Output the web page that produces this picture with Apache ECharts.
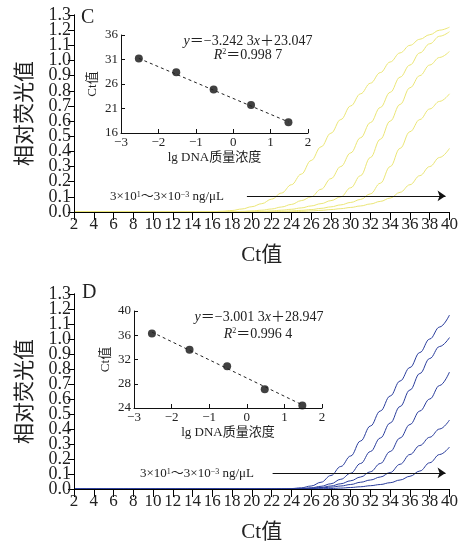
<!DOCTYPE html>
<html><head><meta charset="utf-8">
<script src="https://cdn.jsdelivr.net/npm/echarts@6/dist/echarts.min.js"></script>
<style>html,body{margin:0;padding:0;background:#fff}#c{width:461px;height:545px}</style>
</head><body><div id="c"></div>
<script>
// Ct axis samples
const ct = [2,3,4,5,6,7,8,9,10,11,12,13,14,15,16,17,18,19,20,21,22,23,24,25,26,27,28,29,30,31,32,33,34,35,36,37,38,39,40];

// Panel C amplification curves (relative fluorescence)
const curveC1 = [0,0,0,0,0,0,0,0,0,0,0,0,0,0,0.002,0.005,0.01,0.02,0.035,0.055,0.085,0.125,0.18,0.25,0.34,0.43,0.52,0.61,0.70,0.78,0.85,0.92,0.99,1.05,1.10,1.14,1.17,1.20,1.22];
const curveC2 = [0,0,0,0,0,0,0,0,0,0,0,0,0,0,0,0,0.002,0.004,0.007,0.012,0.02,0.033,0.05,0.075,0.10,0.15,0.22,0.30,0.39,0.49,0.59,0.69,0.79,0.89,0.97,1.05,1.11,1.16,1.19];
const curveC3 = [0,0,0,0,0,0,0,0,0,0,0,0,0,0,0,0,0,0,0.002,0.004,0.007,0.012,0.018,0.027,0.04,0.055,0.075,0.10,0.16,0.24,0.36,0.48,0.60,0.71,0.82,0.90,0.97,1.02,1.06];
const curveC4 = [0,0,0,0,0,0,0,0,0,0,0,0,0,0,0,0,0,0,0,0,0.002,0.004,0.007,0.011,0.016,0.024,0.034,0.047,0.063,0.083,0.12,0.19,0.30,0.42,0.53,0.61,0.68,0.73,0.78];
const curveC5 = [0,0,0,0,0,0,0,0,0,0,0,0,0,0,0,0,0,0,0,0,0,0,0.002,0.004,0.007,0.011,0.016,0.022,0.03,0.04,0.053,0.07,0.092,0.13,0.18,0.24,0.30,0.36,0.42];

// Panel D amplification curves
const curveD1 = [0,0,0,0,0,0,0,0,0,0,0,0,0,0,0,0,0,0,0,0,0,0.001,0.003,0.008,0.02,0.045,0.09,0.15,0.22,0.32,0.42,0.52,0.62,0.72,0.81,0.91,1.00,1.08,1.16];
const curveD2 = [0,0,0,0,0,0,0,0,0,0,0,0,0,0,0,0,0,0,0,0,0,0,0.001,0.003,0.008,0.018,0.035,0.065,0.105,0.17,0.25,0.34,0.44,0.55,0.66,0.77,0.87,0.95,1.01];
const curveD3 = [0,0,0,0,0,0,0,0,0,0,0,0,0,0,0,0,0,0,0,0,0,0,0.001,0.002,0.005,0.01,0.02,0.035,0.055,0.08,0.115,0.17,0.25,0.34,0.43,0.52,0.60,0.69,0.78];
const curveD4 = [0,0,0,0,0,0,0,0,0,0,0,0,0,0,0,0,0,0,0,0,0,0,0,0.001,0.003,0.007,0.012,0.02,0.03,0.045,0.06,0.08,0.11,0.165,0.23,0.29,0.345,0.40,0.46];
const curveD5 = [0,0,0,0,0,0,0,0,0,0,0,0,0,0,0,0,0,0,0,0,0,0,0,0,0.001,0.002,0.003,0.006,0.01,0.015,0.022,0.03,0.042,0.06,0.085,0.12,0.175,0.23,0.28];

// Standard curves (inset): lg DNA concentration vs Ct
const lgConc = [-2.523,-1.523,-0.523,0.477,1.477];
const ctC = [31.2,28.4,24.9,21.7,18.2];
const ctD = [36.3,33.6,30.9,27.1,24.4];
const fitX = [-2.523,1.477];
const fitC = [31.23,18.26];
const fitD = [36.52,24.51];

// arrow annotation (Ct range, fluorescence level)
const arrowC = [[19.5,0.106],[39.6,0.106]];
const arrowD = [[22.1,0.107],[39.6,0.107]];

// tick settings
const mainXTicks = {min:2,max:40,interval:2};
const mainYTicks = {min:0,max:1.3,interval:0.1};
const insetXTicks = {min:-3,max:2,interval:1};
const insetCY = {min:16,max:36,interval:5};
const insetDY = {min:24,max:40,interval:4};

const FONT = "'Liberation Serif','Noto Sans CJK SC',serif";
const TXT = '#222';
const YEL = '#ebe676';
const BLU = '#2a3d9c';

const zip = (a,b) => a.map((v,i)=>[v,b[i]]);
const minusFmt = v => (v<0 ? '\u2212'+Math.abs(v) : String(v));

function mainX(gi){
  return {gridIndex:gi, type:'value', ...mainXTicks, z:10,
    name:'Ct值', nameLocation:'middle', nameGap:33,
    nameTextStyle:{fontFamily:FONT,fontSize:21,color:TXT},
    axisLine:{show:true,onZero:false,lineStyle:{color:'#000',width:1,opacity:1}},
    axisTick:{show:true,inside:false,length:8,lineStyle:{color:'#000',width:1,opacity:1}},
    axisLabel:{fontFamily:FONT,fontSize:17,color:TXT,margin:4,showMinLabel:true,showMaxLabel:true,hideOverlap:false},
    splitLine:{show:false}};
}
// two overlaid left axes per panel: one carries even labels, the other odd ones
function mainY(gi, parity){
  const ax = {gridIndex:gi, type:'value', position:'left', ...mainYTicks, z:10,
    axisLine:{show:true,onZero:false,lineStyle:{color:'#000',width:1,opacity:1}},
    axisTick:{show:true,inside:false,length:6,lineStyle:{color:'#000',width:1,opacity:1}},
    axisLabel:{fontFamily:FONT,fontSize:18,color:TXT,margin:3,showMinLabel:true,showMaxLabel:true,hideOverlap:false,
      formatter:v=>{const k=Math.round(v*10); return (k%2===parity)? v.toFixed(1) : '';}},
    splitLine:{show:false}};
  if (parity===0) {
    ax.name = '相对荧光值'; ax.nameLocation = 'middle'; ax.nameGap = 38;
    ax.nameTextStyle = {fontFamily:FONT,fontSize:21,color:TXT};
  }
  return ax;
}
function insetX(gi){
  return {gridIndex:gi, type:'value', ...insetXTicks, z:10,
    name:'lg DNA质量浓度', nameLocation:'middle', nameGap:18,
    nameTextStyle:{fontFamily:FONT,fontSize:13,color:TXT},
    axisLine:{onZero:false,lineStyle:{color:'#111',width:1}},
    axisTick:{show:true,inside:true,length:4,lineStyle:{color:'#111'}},
    axisLabel:{fontFamily:FONT,fontSize:13,color:TXT,margin:3,formatter:minusFmt},
    splitLine:{show:false}};
}
function insetY(gi, t){
  return {gridIndex:gi, type:'value', ...t, z:10,
    name:'Ct值', nameLocation:'middle', nameGap:22,
    nameTextStyle:{fontFamily:FONT,fontSize:13,color:TXT},
    axisLine:{show:true,onZero:false,lineStyle:{color:'#111',width:1}},
    axisTick:{show:true,inside:true,length:4,lineStyle:{color:'#111'}},
    axisLabel:{fontFamily:FONT,fontSize:13,color:TXT,margin:3},
    splitLine:{show:false}};
}

function curve(data, xi, yi, color, arrow){
  const s = {type:'line', xAxisIndex:xi, yAxisIndex:yi, data:zip(ct,data), symbol:'none',
    smooth:0.4, smoothMonotone:'x', lineStyle:{color:color,width:1}, itemStyle:{color:color}, silent:true, z:3};
  if (arrow) {
    s.clip = false;
    s.markLine = {silent:true, symbol:['none','arrow'], symbolSize:8, label:{show:false},
      lineStyle:{color:'#111',width:1,type:'solid'}, itemStyle:{color:'#111'}, emphasis:{disabled:true},
      data:[
        [{coord:arrow[0], symbol:'none'},{coord:arrow[1], symbol:'arrow'}],
        [{coord:[mainXTicks.min, mainYTicks.min], symbol:'none'},{coord:[mainXTicks.min, mainYTicks.max], symbol:'none'}]
      ]};
  }
  return s;
}

const option = {
  animation:false,
  backgroundColor:'#fff',
  grid:[
    {left:74, top:15, width:377, height:197},
    {left:121, top:35, width:187, height:98},
    {left:74, top:294, width:377, height:195},
    {left:134, top:311, width:188, height:97}
  ],
  xAxis:[mainX(0), insetX(1), mainX(2), insetX(3)],
  // indices: 0 C-even, 1 C inset, 2 D-even, 3 D inset, 4 C-odd, 5 D-odd
  yAxis:[mainY(0,0), insetY(1, insetCY), mainY(2,0), insetY(3, insetDY), mainY(0,1), mainY(2,1)],
  series:[
    curve(curveC5,0,0,YEL,arrowC),
    curve(curveC4,0,0,YEL), curve(curveC3,0,0,YEL), curve(curveC2,0,0,YEL), curve(curveC1,0,0,YEL),
    curve(curveD5,2,2,BLU,arrowD),
    curve(curveD4,2,2,BLU), curve(curveD3,2,2,BLU), curve(curveD2,2,2,BLU), curve(curveD1,2,2,BLU),
    {type:'line', xAxisIndex:1, yAxisIndex:1, data:zip(fitX,fitC), symbol:'none',
      lineStyle:{color:'#222',width:1,type:[3,3]}, silent:true},
    {type:'scatter', xAxisIndex:1, yAxisIndex:1, data:zip(lgConc,ctC), symbolSize:8,
      itemStyle:{color:'#111'}, silent:true},
    {type:'line', xAxisIndex:3, yAxisIndex:3, data:zip(fitX,fitD), symbol:'none',
      lineStyle:{color:'#222',width:1,type:[3,3]}, silent:true},
    {type:'scatter', xAxisIndex:3, yAxisIndex:3, data:zip(lgConc,ctD), symbolSize:8,
      itemStyle:{color:'#111'}, silent:true}
  ],
  graphic:[]
};

const rich = {
  i:{fontFamily:FONT,fontSize:14,fontStyle:'italic',fill:TXT,color:TXT},
  n:{fontFamily:FONT,fontSize:14,fill:TXT,color:TXT},
  sup:{fontFamily:FONT,fontSize:8,fill:TXT,color:TXT,verticalAlign:'top',lineHeight:14},
  a:{fontFamily:FONT,fontSize:13,fill:TXT,color:TXT},
  asup:{fontFamily:FONT,fontSize:8,fill:TXT,color:TXT,verticalAlign:'top',lineHeight:13}
};
function txt(x,y,text,align,size){
  return {type:'text', x:x, y:y, z:20,
    style:{text:text, rich:rich, align:align||'center', verticalAlign:'middle',
      font:(size||14)+'px '+FONT, fill:TXT}};
}
option.graphic = [
  {type:'text', x:81, y:8, z:20, style:{text:'C', font:'20px '+FONT, fill:TXT}},
  {type:'text', x:82, y:283, z:20, style:{text:'D', font:'20px '+FONT, fill:TXT}},
  txt(248,41,'{i|y}{n|＝−3.242 3}{i|x}{n|＋23.047}'),
  txt(248,55,'{i|R}{sup|2}{n|＝0.998 7}'),
  txt(259,317,'{i|y}{n|＝−3.001 3}{i|x}{n|＋28.947}'),
  txt(258,334,'{i|R}{sup|2}{n|＝0.996 4}'),
  txt(110,197,'{a|3×10}{asup|1}{a|～3×10}{asup|−3}{a| ng/μL}','left',13),
  txt(140,474,'{a|3×10}{asup|1}{a|～3×10}{asup|−3}{a| ng/μL}','left',13)
];

const chart = echarts.init(document.getElementById('c'), null, {renderer:'canvas'});
chart.setOption(option);
</script>
</body></html>
